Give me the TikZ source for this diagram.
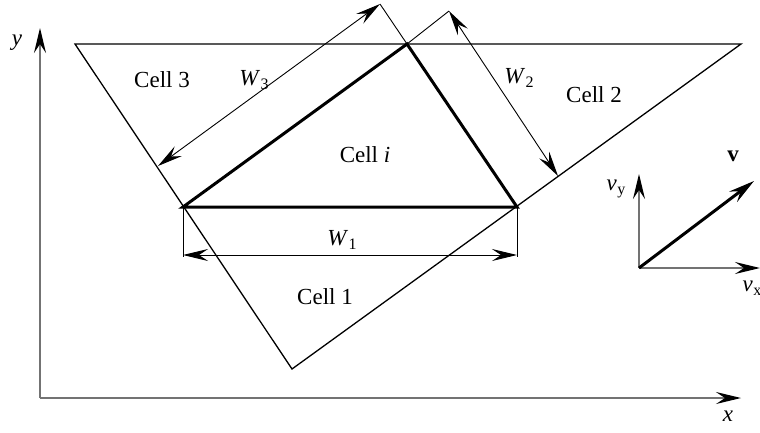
\documentclass[tikz,border=0pt]{standalone}
\usepackage{fontspec}
\setmainfont{Liberation Serif}
\usetikzlibrary{arrows.meta}
\newcommand\lbsub[2]{\textit{#1}\kern0.5pt\raisebox{-0.4ex}{\fontsize{16}{16}\selectfont #2}}
\begin{document}
\begin{tikzpicture}[x=1pt,y=-1pt,
  thinline/.style={line width=1.3pt},
  thickline/.style={line width=3pt, line join=miter},
  dimline/.style={line width=0.9pt},
  axisline/.style={line width=1.3pt, draw=black!55},
  bigtip/.style={-{Stealth[length=25pt,width=12pt,inset=9pt,color=black]}},
  dimtips/.style={{Stealth[length=25pt,width=12pt,inset=9pt]}-{Stealth[length=25pt,width=12pt,inset=9pt]}},
  lbl/.style={font=\fontsize{23}{27}\selectfont, inner sep=0pt}]
\useasboundingbox (0,0) rectangle (760,432);
% coordinates
\coordinate (O) at (40,398);
\coordinate (Ytip) at (40,28);
\coordinate (Xtip) at (741,398);
\coordinate (TL) at (75,44);
\coordinate (TR) at (741,44);
\coordinate (Bot) at (292,369);
\coordinate (A) at (183,207);
\coordinate (B) at (517,207);
\coordinate (C) at (407,44);
\coordinate (W3a) at (380,4);
\coordinate (W3b) at (158,166);
\coordinate (W2a) at (449,11);
\coordinate (W2b) at (558,176);
\coordinate (A1) at (183,257);
\coordinate (B1) at (517,257);
\coordinate (D1) at (183,255);
\coordinate (D2) at (517,255);
\coordinate (V) at (639,268);
\coordinate (Vy) at (639,174);
\coordinate (Vx) at (760,268);
\coordinate (Vv) at (754,181);
% axes
\draw[axisline, bigtip] (O) -- (Ytip);
\draw[axisline, bigtip] (O) -- (Xtip);
% cells
\draw[thinline] (TL) -- (TR) -- (Bot) -- cycle;
\draw[thickline] (A) -- (B) -- (C) -- cycle;
% dimensions
\draw[dimline] (C) -- (W3a);
\draw[dimline] (C) -- (W2a);
\draw[dimline] (A) -- (A1);
\draw[dimline] (B) -- (B1);
\draw[dimline, dimtips] (W3b) -- (W3a);
\draw[dimline, dimtips] (W2a) -- (W2b);
\draw[dimline, dimtips] (D1) -- (D2);
% velocity
\draw[axisline, bigtip] (V) -- (Vy);
\draw[axisline, bigtip] (V) -- (Vx);
\draw[line width=3pt, -{Stealth[length=26pt,width=13pt,inset=9pt]}] (V) -- (Vv);
% labels
\node[lbl] (ly) at (17,43) {\textit{y}};
\node[lbl] (lx) at (728,416) {\textit{x}};
\node[lbl] (c3) at (162,80) {Cell 3};
\node[lbl] (w3) at (254,80) {\lbsub{W}{3}};
\node[lbl] (w2) at (519,78) {\lbsub{W}{2}};
\node[lbl] (c2) at (594,95) {Cell 2};
\node[lbl] (ci) at (365,155) {Cell \textit{i}};
\node[lbl] (w1) at (342,240) {\lbsub{W}{1}};
\node[lbl] (c1) at (325,297) {Cell 1};
\node[lbl] (lv) at (733,156) {\textbf{v}};
\node[lbl] (lvy) at (616,189) {\lbsub{v}{y}};
\node[lbl] (lvx) at (752,288) {\lbsub{v}{x}};
\end{tikzpicture}
\end{document}
